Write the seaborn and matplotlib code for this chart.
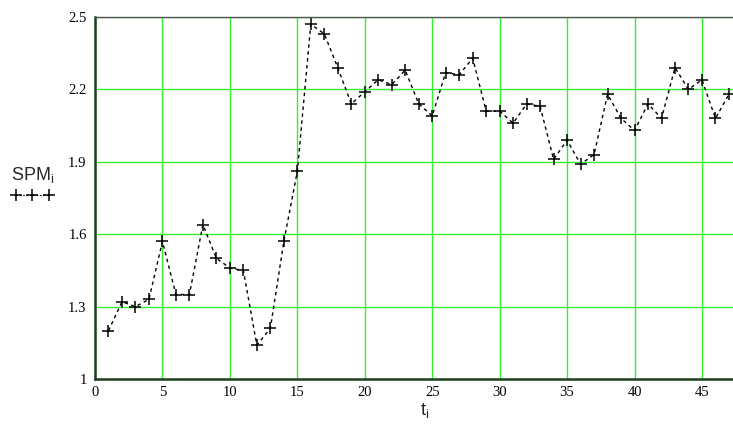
# plot.py
import matplotlib
matplotlib.use("Agg")
import matplotlib.pyplot as plt
import seaborn as sns
import pandas as pd
from matplotlib.lines import Line2D

# Datos
t = list(range(1, 48))
spm = [1.20, 1.32, 1.30, 1.33, 1.57, 1.35, 1.35, 1.64, 1.50, 1.46,
       1.45, 1.14, 1.21, 1.57, 1.86, 2.47, 2.43, 2.29, 2.14, 2.19,
       2.24, 2.22, 2.28, 2.14, 2.09, 2.27, 2.26, 2.33, 2.11, 2.11,
       2.06, 2.14, 2.13, 1.91, 1.99, 1.89, 1.93, 2.18, 2.08, 2.03,
       2.14, 2.08, 2.29, 2.20, 2.24, 2.08, 2.18]
x_ticks = [0, 5, 10, 15, 20, 25, 30, 35, 40, 45]
y_ticks = [1, 1.3, 1.6, 1.9, 2.2, 2.5]

df = pd.DataFrame({"t": t, "SPM": spm})

sns.set_style("white")
plt.rcParams["font.family"] = ["Liberation Serif", "DejaVu Serif"]

fig = plt.figure(figsize=(7.33, 4.28), dpi=100)
ax = fig.add_axes([95 / 733, 49 / 428, (733 - 95) / 733, (379 - 17) / 428])

sns.lineplot(data=df, x="t", y="SPM", ax=ax, color="black",
             linestyle=(0, (2.5, 2.5)), linewidth=1.0,
             marker="+", markersize=9, markeredgewidth=1.1,
             markeredgecolor="black")

ax.set_xlim(0, 47.3)
ax.set_ylim(1, 2.5)
ax.set_xticks(x_ticks)
ax.set_yticks(y_ticks)
ax.set_xticklabels([str(v) for v in x_ticks])
ax.set_yticklabels(["1", "1.3", "1.6", "1.9", "2.2", "2.5"])
ax.tick_params(axis="both", length=0, labelsize=10.5, colors="black")
ax.tick_params(axis="x", pad=5)
ax.tick_params(axis="y", pad=6)

ax.grid(True, color="#33ee33", linewidth=1.0)
ax.set_axisbelow(True)

for lado in ["left", "bottom"]:
    ax.spines[lado].set_color("#1f3d1f")
    ax.spines[lado].set_linewidth(1.8)
ax.spines["top"].set_color("#555555")
ax.spines["top"].set_linewidth(1.0)
ax.spines["right"].set_visible(False)

ax.set_xlabel("")
ax.set_ylabel("")

# Etiquetas de los ejes (estilo sans)
fig.text(425 / 733, 1 - 410 / 428, r"t$_\mathregular{i}$", ha="center", va="center",
         fontsize=13, family=["Liberation Sans", "DejaVu Sans"])
fig.text(33 / 733, 1 - 175 / 428, r"SPM$_\mathregular{i}$", ha="center", va="center",
         fontsize=13, family=["Liberation Sans", "DejaVu Sans"])

muestra = Line2D([], [], color="black", linestyle=(0, (1.5, 1.5)), linewidth=0.8,
                 marker="+", markersize=9, markeredgewidth=1.1)
fig.legend(handles=[muestra], labels=[""], numpoints=3, frameon=False,
           handlelength=3.0, loc="center", bbox_to_anchor=(38 / 733, 1 - 196 / 428))

fig.savefig("out.png", dpi=100)
